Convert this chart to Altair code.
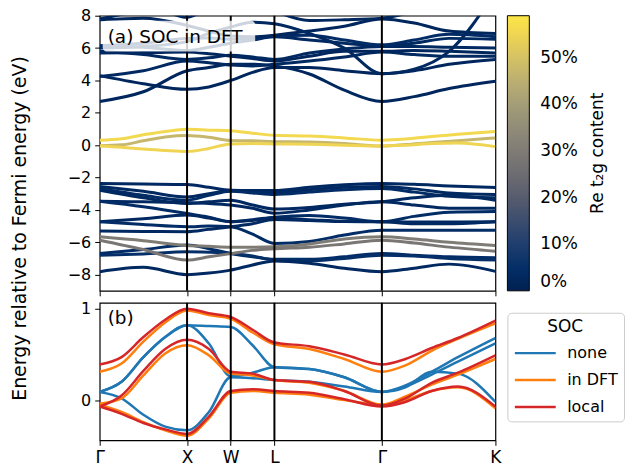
import altair as alt
import pandas as pd

# ---------------- data ----------------
k_top = [0, 0.5, 1, 1.25, 1.5, 1.75, 2.0, 2.4, 2.8, 3.23, 3.6, 4.0, 4.53]
k_bot = [0, 0.25, 0.5, 0.75, 1, 1.25, 1.5, 1.75, 2.0, 2.4, 2.8, 3.23, 3.5, 3.8, 4.1, 4.53]
tick_pos = [0, 1, 1.5, 2.0, 3.23, 4.53]
tick_lab = ["Γ", "X", "W", "L", "Γ", "K"]

# conduction bands (eV)
c1 = [2.7, 3.3, 4.6, 4.8, 5.0, 5.0, 4.9, 4.4, 3.4, 2.7, 3.0, 3.5, 3.95]
c2 = [4.3, 3.8, 3.45, 3.6, 4.0, 4.5, 4.8, 4.8, 4.6, 4.42, 4.6, 5.0, 5.3]
c3 = [4.25, 4.6, 5.2, 5.1, 4.95, 4.9, 5.0, 5.2, 5.45, 5.75, 5.6, 5.5, 5.5]
c4 = [5.7, 5.72, 5.75, 5.65, 5.5, 5.35, 5.2, 5.5, 5.8, 5.8, 5.85, 5.8, 5.7]
c5 = [5.8, 5.6, 5.3, 5.4, 5.55, 5.45, 5.3, 5.7, 5.95, 6.1, 6.1, 6.05, 6.0]
c6 = [6.15, 6.05, 5.85, 6.05, 6.3, 6.5, 6.7, 6.5, 6.3, 6.12, 6.3, 6.6, 6.55]
c7 = [6.15, 6.3, 6.6, 6.62, 6.55, 6.6, 6.75, 6.8, 6.5, 6.2, 6.5, 6.85, 6.7]
c8 = [7.75, 7.85, 7.4, 7.05, 6.75, 6.7, 6.8, 7.05, 7.35, 7.8, 7.55, 7.05, 6.9]
c9 = [7.8, 8.4, 9.2, 9.3, 9.2, 8.9, 8.3, 7.7, 7.75, 7.85, 8.3, 9.2, 9.5]
c10 = [9.5, 9.0, 7.9, 8.6, 9.5, 9.5, 9.5, 9.5, 9.5, 9.5, 9.5, 9.5, 9.5]
c11 = [6.0, 6.1, 6.4, 6.9, 7.3, 7.6, 7.5, 6.9, 6.0, 4.42, 4.7, 5.8, 9.5]

# valence bands (eV)
v1 = [-2.37, -2.4, -2.43, -2.6, -2.78, -2.8, -2.8, -2.6, -2.45, -2.37, -2.42, -2.52, -2.62]
v2 = [-2.55, -2.85, -3.2, -3.0, -2.8, -2.85, -2.9, -2.75, -2.6, -2.55, -2.7, -2.95, -3.05]
v3 = [-2.68, -3.1, -3.4, -3.1, -2.85, -2.95, -3.05, -2.9, -2.75, -2.68, -2.9, -3.15, -3.25]
v4 = [-2.78, -3.25, -3.6, -3.5, -3.4, -3.7, -3.95, -3.85, -3.65, -3.5, -3.25, -3.1, -3.4]
v5 = [-3.46, -3.5, -3.55, -3.6, -3.7, -3.9, -4.2, -4.0, -3.7, -3.5, -3.7, -3.9, -3.9]
v6 = [-3.46, -3.8, -4.22, -4.45, -4.73, -4.6, -4.45, -4.35, -4.5, -4.73, -4.4, -4.15, -4.1]
v7 = [-4.73, -4.55, -4.32, -4.5, -4.73, -4.65, -4.5, -4.6, -4.7, -4.73, -4.75, -4.75, -4.73]
v8 = [-4.73, -4.9, -5.04, -5.0, -5.04, -5.5, -6.07, -5.95, -5.55, -5.25, -5.25, -5.25, -5.25]
v9 = [-5.31, -5.33, -5.35, -5.2, -5.04, -4.85, -4.6, -4.65, -4.72, -4.73, -4.85, -4.85, -4.73]
v10 = [-6.69, -6.45, -6.17, -6.4, -6.69, -6.9, -7.05, -7.05, -6.9, -6.69, -6.8, -6.9, -6.95]
v11 = [-6.8, -6.72, -6.59, -6.62, -6.69, -6.85, -7.1, -7.15, -7.0, -6.8, -6.85, -7.0, -7.1]
v12 = [-7.82, -7.55, -8.0, -7.9, -7.72, -7.4, -7.15, -7.3, -7.6, -7.82, -7.6, -7.35, -7.8]
g1 = [-5.66, -5.9, -6.2, -6.25, -6.3, -6.3, -6.28, -6.1, -5.8, -5.66, -5.8, -6.0, -6.2]
g2 = [-5.87, -6.45, -7.1, -6.9, -6.7, -6.5, -6.4, -6.3, -6.1, -5.87, -6.05, -6.3, -6.55]

# t2g bands near the Fermi level, three SOC treatments
none_1 = [0.09, 0.2, 0.47, 0.69, 0.82, 0.81, 0.8, 0.6, 0.36, 0.34, 0.25, 0.09, 0.16, 0.31, 0.47, 0.68]
none_2 = [0.09, 0.2, 0.47, 0.69, 0.82, 0.62, 0.26, 0.3, 0.36, 0.34, 0.25, 0.09, 0.15, 0.28, 0.42, 0.62]
none_3 = [0.09, 0.02, -0.16, -0.29, -0.33, -0.13, 0.25, 0.24, 0.22, 0.2, 0.15, 0.09, 0.14, 0.31, 0.29, -0.02]
dft_1 = [0.31, 0.4, 0.64, 0.85, 0.98, 0.93, 0.89, 0.74, 0.61, 0.56, 0.45, 0.31, 0.38, 0.54, 0.67, 0.84]
dft_2 = [-0.04, 0.02, 0.27, 0.51, 0.6, 0.49, 0.29, 0.27, 0.22, 0.19, 0.1, -0.05, 0.04, 0.17, 0.28, 0.45]
dft_3 = [-0.05, -0.13, -0.24, -0.33, -0.39, -0.2, 0.08, 0.1, 0.08, 0.06, 0.0, -0.05, 0.0, 0.1, 0.14, -0.09]
local_1 = [0.39, 0.47, 0.69, 0.88, 1.0, 0.95, 0.91, 0.77, 0.63, 0.59, 0.5, 0.39, 0.45, 0.57, 0.68, 0.87]
local_2 = [-0.07, 0.05, 0.32, 0.56, 0.66, 0.56, 0.31, 0.29, 0.22, 0.2, 0.1, -0.06, 0.02, 0.19, 0.3, 0.49]
local_3 = [-0.07, -0.15, -0.25, -0.32, -0.37, -0.18, 0.1, 0.12, 0.1, 0.08, 0.01, -0.07, -0.02, 0.1, 0.15, -0.07]

soc_names = ["none", "in DFT", "local"]
soc_colors = ["#1f77b4", "#ff7f0e", "#d62728"]
cbar_ticks = [0, 0.1, 0.2, 0.3, 0.4, 0.5]

# t2g content per band (fraction)
top_bands = [
    ("c1", c1, 0.02), ("c2", c2, 0.02), ("c3", c3, 0.03), ("c4", c4, 0.02),
    ("c5", c5, 0.03), ("c6", c6, 0.03), ("c7", c7, 0.04), ("c8", c8, 0.02),
    ("c9", c9, 0.02), ("c10", c10, 0.02), ("c11", c11, 0.03),
    ("v1", v1, 0.03), ("v2", v2, 0.03), ("v3", v3, 0.04), ("v4", v4, 0.03),
    ("v5", v5, 0.03), ("v6", v6, 0.04), ("v7", v7, 0.03), ("v8", v8, 0.04),
    ("v9", v9, 0.03), ("v10", v10, 0.04), ("v11", v11, 0.05), ("v12", v12, 0.03),
    ("g1", g1, 0.30), ("g2", g2, 0.28),
]
yellow_bands = [("y1", dft_1, 0.56), ("y2", dft_2, 0.47), ("y3", dft_3, 0.55)]

rows = []
for name, vals, c in top_bands:
    for k, e in zip(k_top, vals):
        rows.append({"band": name, "k": k, "E": e, "t2g": c})
for name, vals, c in yellow_bands:
    for k, e in zip(k_bot, vals):
        rows.append({"band": name, "k": k, "E": e, "t2g": c})
top_df = pd.DataFrame(rows)

brows = []
for soc, bands in zip(soc_names, [[none_1, none_2, none_3], [dft_1, dft_2, dft_3], [local_1, local_2, local_3]]):
    for i, vals in enumerate(bands):
        for k, e in zip(k_bot, vals):
            brows.append({"soc": soc, "band": f"{soc}{i}", "k": k, "E": e})
bot_df = pd.DataFrame(brows)

rule_df = pd.DataFrame({"k": tick_pos[1:5]})

# ---------------- chart ----------------
FONT = "DejaVu Sans"
FS = 16
W = 397
H_TOP = 276
H_BOT = 138

label_expr = ("datum.value < 0.5 ? 'Γ' : datum.value < 1.2 ? 'X' : datum.value < 1.7 ? 'W' : "
              "datum.value < 2.5 ? 'L' : datum.value < 4 ? 'Γ' : 'K'")

x_scale = alt.Scale(domain=[0, 4.53], nice=False, zero=False)

top_lines = alt.Chart(top_df).mark_line(strokeWidth=3, clip=True, interpolate="monotone").encode(
    x=alt.X("k:Q", scale=x_scale,
            axis=alt.Axis(values=tick_pos, labels=False, title=None)),
    y=alt.Y("E:Q", scale=alt.Scale(domain=[-9, 8], nice=False, zero=False),
            axis=alt.Axis(values=list(range(-8, 9, 2)),
                          title="Energy relative to Fermi energy (eV)",
                          titleY=213, titlePadding=38, titleFontSize=19)),
    color=alt.Color("t2g:Q", scale=alt.Scale(scheme="cividis", domain=[0, 0.59]),
                    legend=alt.Legend(title=None, orient="right", offset=12,
                                      direction="vertical", gradientLength=H_TOP,
                                      gradientThickness=22, gradientStrokeColor="black",
                                      gradientStrokeWidth=1,
                                      values=cbar_ticks, format=".0%",
                                      labelFontSize=17, labelFont=FONT, labelOffset=11,
                                      padding=0)),
    detail="band:N",
)

top_rules = alt.Chart(rule_df).mark_rule(color="black", strokeWidth=2).encode(x=alt.X("k:Q", scale=x_scale))

box_a = alt.Chart(pd.DataFrame({"t": ["(a) SOC in DFT"]})).mark_rect(
    fill="white", opacity=0.8, cornerRadius=4).encode(
    x=alt.value(3), x2=alt.value(156), y=alt.value(5), y2=alt.value(36))
text_a = alt.Chart(pd.DataFrame({"t": ["(a) SOC in DFT"]})).mark_text(
    align="left", baseline="middle", fontSize=18.5, font=FONT, color="black").encode(
    x=alt.value(8), y=alt.value(21), text="t:N")
cbar_title = alt.Chart(pd.DataFrame({"t": ["Re t₂g content"]})).mark_text(
    align="center", baseline="middle", fontSize=17, font=FONT, color="black", angle=270).encode(
    x=alt.value(W + 103), y=alt.value(H_TOP / 2), text="t:N")

top = alt.layer(top_lines, top_rules, box_a, text_a, cbar_title).properties(width=W, height=H_TOP)

bot_layers = []
for s in soc_names:
    bot_layers.append(
        alt.Chart(bot_df).transform_filter(alt.datum.soc == s).mark_line(
            strokeWidth=2.5, clip=True, interpolate="monotone").encode(
            x=alt.X("k:Q", scale=x_scale,
                    axis=alt.Axis(values=tick_pos, labelExpr=label_expr, title=None,
                                  labelFlush=False, labelOverlap=False, labelFontSize=17,
                                  labelPadding=4)),
            y=alt.Y("E:Q", scale=alt.Scale(domain=[-0.44, 1.065], nice=False, zero=False),
                    axis=alt.Axis(values=[0, 1], title=None)),
            color=alt.Color("soc:N", scale=alt.Scale(domain=soc_names, range=soc_colors),
                            legend=alt.Legend(title="SOC", orient="none", legendX=409, legendY=10,
                                              symbolType="stroke", symbolSize=1681,
                                              symbolStrokeWidth=2.5, labelFontSize=16,
                                              labelFont=FONT, titleFontSize=17, titleFont=FONT,
                                              titleFontWeight="normal", titleAnchor="middle",
                                              strokeColor="#cccccc", cornerRadius=4,
                                              fillColor="white", padding=6, rowPadding=10,
                                              clipHeight=17, labelOffset=10, titlePadding=9)),
            detail="band:N",
        )
    )

bot_rules = alt.Chart(rule_df).mark_rule(color="black", strokeWidth=2).encode(x=alt.X("k:Q", scale=x_scale))
text_b = alt.Chart(pd.DataFrame({"t": ["(b)"]})).mark_text(
    align="left", baseline="middle", fontSize=18.5, font=FONT, color="black").encode(
    x=alt.value(8), y=alt.value(15), text="t:N")

bottom = alt.layer(*bot_layers, bot_rules, text_b).properties(width=W, height=H_BOT)

chart = alt.vconcat(top, bottom, spacing=12, bounds="flush").resolve_scale(
    color="independent", x="independent", y="independent"
).resolve_legend(color="independent").configure_view(
    stroke="black", strokeWidth=1.2
).configure_axis(
    domain=False, grid=False, tickColor="black", labelColor="black", labelFont=FONT,
    labelFontSize=FS, tickSize=5, labelPadding=4, titleFont=FONT, titleFontSize=FS,
    titleFontWeight="normal", titleColor="black"
).configure_legend(
    gradientVerticalMaxLength=400, gradientVerticalMinLength=50
).properties(
    padding={"left": 1, "top": -2, "right": 0, "bottom": 0}
)

chart.save("out.html", embed_options={"renderer": "svg", "actions": False})
